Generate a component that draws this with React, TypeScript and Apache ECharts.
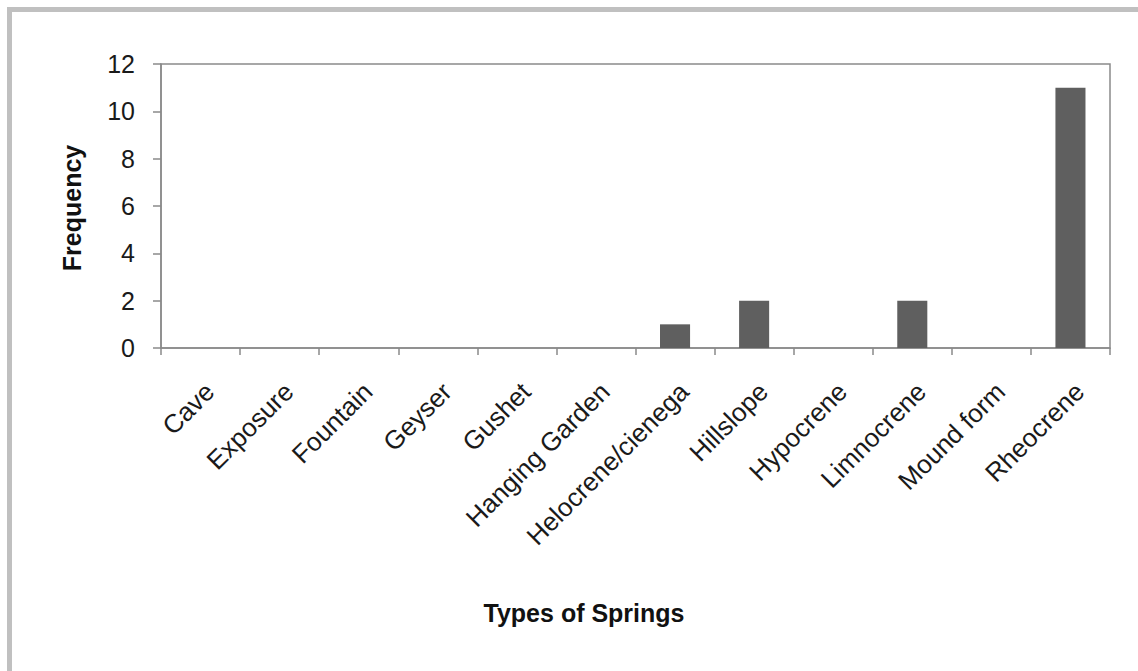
import React, { useEffect, useRef } from "react";
import * as echarts from "echarts";

const categories = [
  "Cave",
  "Exposure",
  "Fountain",
  "Geyser",
  "Gushet",
  "Hanging Garden",
  "Helocrene/cienega",
  "Hillslope",
  "Hypocrene",
  "Limnocrene",
  "Mound form",
  "Rheocrene",
];
const frequency = [0, 0, 0, 0, 0, 0, 1, 2, 0, 2, 0, 11];
const yTicks = { min: 0, max: 12, interval: 2 };
const yTitle = "Frequency";
const xTitle = "Types of Springs";

export default function App() {
  const ref = useRef<HTMLDivElement>(null);
  useEffect(() => {
    if (!ref.current) return;
    const chart = echarts.init(ref.current, null, { renderer: "svg" });
    const font = "'Liberation Sans', Arial, sans-serif";
    chart.setOption({
      animation: false,
      backgroundColor: "#ffffff",
      grid: {
        left: 161,
        top: 64,
        right: 28,
        bottom: 323,
        show: true,
        borderColor: "#8a8a8a",
        borderWidth: 1.5,
      },
      xAxis: {
        type: "category",
        data: categories,
        boundaryGap: true,
        axisLine: { lineStyle: { color: "#8a8a8a", width: 1.5 } },
        axisTick: { show: true, length: 7, alignWithLabel: false, lineStyle: { color: "#8a8a8a", width: 1.5 } },
        axisLabel: {
          rotate: 45,
          interval: 0,
          margin: 30,
          verticalAlign: "top",
          color: "#1a1a1a",
          fontSize: 26,
          fontFamily: font,
        },
      },
      yAxis: {
        type: "value",
        min: yTicks.min,
        max: yTicks.max,
        interval: yTicks.interval,
        splitLine: { show: false },
        axisLine: { show: true, lineStyle: { color: "#8a8a8a", width: 1.5 } },
        axisTick: { show: true, length: 8, lineStyle: { color: "#8a8a8a", width: 1.5 } },
        axisLabel: { color: "#1a1a1a", fontSize: 25, fontFamily: font, margin: 26 },
      },
      series: [
        {
          type: "bar",
          data: frequency,
          barWidth: "38%",
          itemStyle: { color: "#5f5f5f" },
        },
      ],
      graphic: [
        { type: "rect", shape: { x: 7, y: 7, width: 1131, height: 5 }, style: { fill: "#c0c0c0" } },
        { type: "rect", shape: { x: 7, y: 7, width: 5, height: 664 }, style: { fill: "#c0c0c0" } },
        {
          type: "text",
          x: 72,
          y: 208,
          rotation: Math.PI / 2,
          style: {
            text: yTitle,
            fill: "#111",
            font: `bold 25px ${font}`,
            align: "center",
            verticalAlign: "middle",
          },
        },
        {
          type: "text",
          x: 584,
          y: 613,
          style: {
            text: xTitle,
            fill: "#111",
            font: `bold 25px ${font}`,
            align: "center",
            verticalAlign: "middle",
          },
        },
      ],
    });
    return () => chart.dispose();
  }, []);
  return (
    <div
      ref={ref}
      style={{ position: "fixed", left: 0, top: 0, width: 1138, height: 671 }}
    />
  );
}
